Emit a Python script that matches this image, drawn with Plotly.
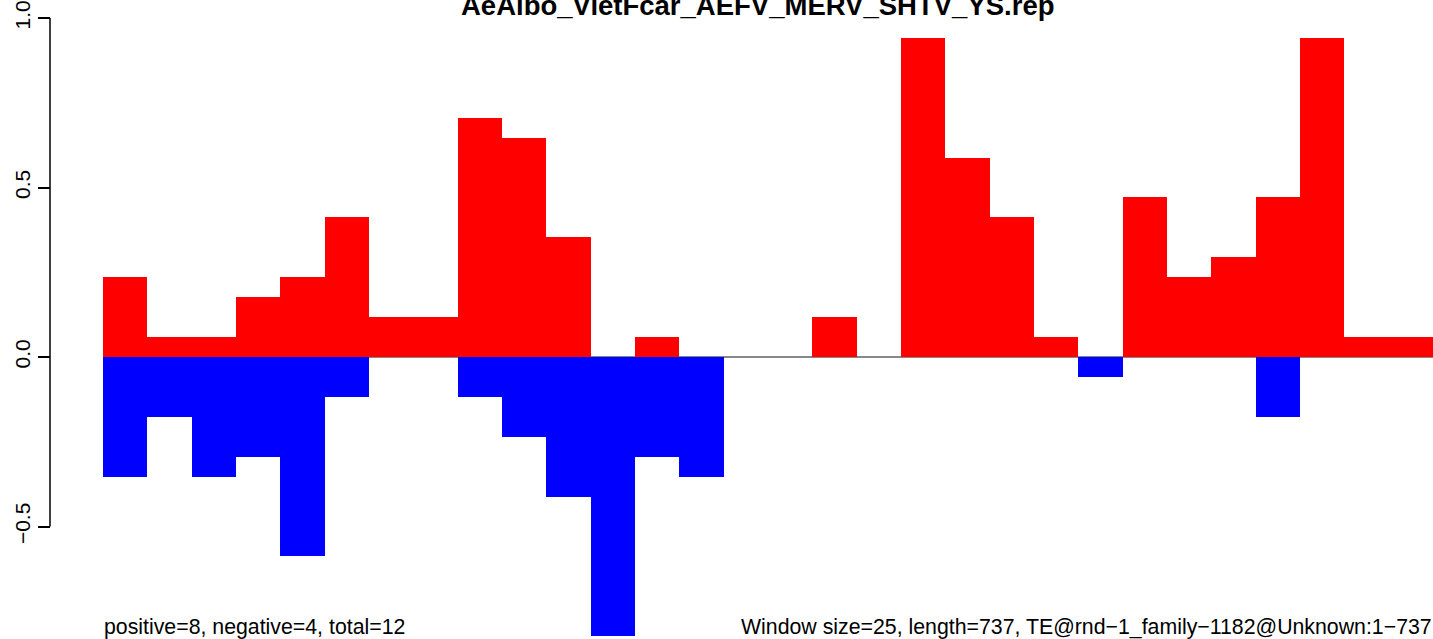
import plotly.graph_objects as go

# window positions and positive / negative scores
windows = list(range(1, 31))
positive = [0.235, 0.059, 0.059, 0.176, 0.235, 0.412, 0.118, 0.118, 0.706, 0.647,
            0.353, 0.0, 0.059, 0.0, 0.0, 0.0, 0.118, 0.0, 0.941, 0.588,
            0.412, 0.059, 0.0, 0.471, 0.235, 0.294, 0.471, 0.941, 0.059, 0.059]
negative = [-0.353, -0.176, -0.353, -0.294, -0.588, -0.118, 0.0, 0.0, -0.118, -0.235,
            -0.412, -0.824, -0.294, -0.353, 0.0, 0.0, 0.0, 0.0, 0.0, 0.0,
            0.0, 0.0, -0.059, 0.0, 0.0, 0.0, -0.176, 0.0, 0.0, 0.0]
y_ticks = [-0.5, 0.0, 0.5, 1.0]
y_labels = ["\u22120.5", "0.0", "0.5", "1.0"]

title = "AeAlbo_VietFcar_AEFV_MERV_SHTV_YS.rep"
left_note = "positive=8, negative=4, total=12"
right_note = "Window size=25, length=737, TE@rnd\u22121_family\u22121182@Unknown:1\u2212737"

W, H = 1433, 639
plot_left = 103
axis_x = 50
zero_px = 357
unit_px = 339

font = "Liberation Sans, Arial, Helvetica, sans-serif"

fig = go.Figure()
fig.add_trace(go.Bar(x=windows, y=positive, width=1, marker=dict(color="#ff0000", line=dict(width=0))))
fig.add_trace(go.Bar(x=windows, y=negative, width=1, marker=dict(color="#0000ff", line=dict(width=0))))

fig.update_layout(
    width=W, height=H,
    margin=dict(l=0, r=0, t=0, b=0),
    paper_bgcolor="white", plot_bgcolor="white",
    barmode="overlay", bargap=0, showlegend=False,
    font=dict(family=font, size=21, color="black"),
    xaxis=dict(domain=[plot_left / W, 1], range=[0.5, 30.5], visible=False),
    yaxis=dict(
        anchor="free", position=axis_x / W,
        range=[-(H - zero_px) / unit_px, zero_px / unit_px],
        tickvals=y_ticks, ticktext=y_labels, tickangle=-90,
        ticks="outside", ticklen=12, tickwidth=1.5, tickcolor="black",
        showgrid=False, zeroline=False, showline=False,
        tickfont=dict(size=21, color="black"),
    ),
)

# axis line spans only first to last tick, like base R
fig.add_shape(type="line", xref="paper", yref="y", x0=axis_x / W, x1=axis_x / W,
              y0=y_ticks[0], y1=y_ticks[-1], line=dict(color="black", width=1.5))
# grey zero line under the bars
fig.add_shape(type="line", xref="paper", yref="y", x0=plot_left / W, x1=1, y0=0, y1=0,
              line=dict(color="#888888", width=2), layer="below")

# title sits partly above the top edge, as in the cropped original
fig.add_annotation(text="<b>" + title + "</b>", xref="paper", yref="paper",
                   x=758 / W, y=1 - 5 / H, xanchor="center", yanchor="middle",
                   showarrow=False, font=dict(size=27.5, color="black"))
fig.add_annotation(text=left_note, xref="paper", yref="paper",
                   x=plot_left / W, y=1 - 627 / H, xanchor="left", yanchor="middle",
                   showarrow=False, borderpad=0, font=dict(size=21.3, color="black"))
fig.add_annotation(text=right_note, xref="paper", yref="paper",
                   x=1, y=1 - 627 / H, xanchor="right", yanchor="middle",
                   showarrow=False, borderpad=0, font=dict(size=21.3, color="black"))

fig.write_html("out.html", config={"displayModeBar": False},
               post_script="document.body.style.margin='0';document.body.style.overflow='hidden';")
